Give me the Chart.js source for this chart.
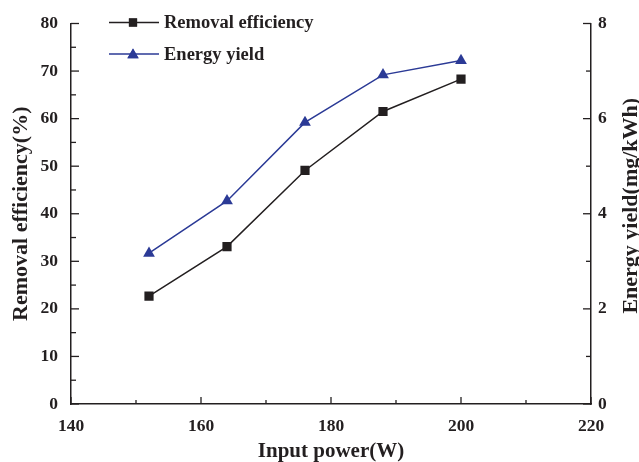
<!DOCTYPE html>
<html>
<head>
<meta charset="utf-8">
<script src="https://cdn.jsdelivr.net/npm/chart.js@4.4.1/dist/chart.umd.min.js"></script>
<style>
html,body{margin:0;padding:0;background:#fff;}
#wrap{width:639px;height:462px;position:relative;}
</style>
</head>
<body>
<div id="wrap"><canvas id="c"></canvas></div>
<script>
const powers = [152, 164, 176, 188, 200];
const removal = [22.7, 33.1, 49.1, 61.5, 68.3];
const energy = [3.17, 4.27, 5.92, 6.92, 7.22];
const xTicks = [140, 160, 180, 200, 220];
const leftTicks = [0, 10, 20, 30, 40, 50, 60, 70, 80];
const rightTicks = [0, 2, 4, 6, 8];
const seriesNames = ['Removal efficiency', 'Energy yield'];

const BLACK = '#231f20';
const BLUE = '#2b3a96';
const FONT = '"Liberation Serif", "Times New Roman", serif';

const inwardTicks = {
  id: 'inwardTicks',
  afterDraw(chart) {
    const ctx = chart.ctx;
    const area = chart.chartArea;
    ctx.save();
    ctx.strokeStyle = BLACK;
    ctx.lineWidth = 1.3;
    const x = chart.scales.x, yl = chart.scales.y, yr = chart.scales.y2;
    for (let v = 140; v <= 220; v += 10) {
      const px = x.getPixelForValue(v);
      const len = (v % 20 === 0) ? 7 : 4;
      ctx.beginPath(); ctx.moveTo(px, area.bottom); ctx.lineTo(px, area.bottom - len); ctx.stroke();
    }
    for (let v = 0; v <= 80; v += 5) {
      const py = yl.getPixelForValue(v);
      const len = (v % 10 === 0) ? 8 : 5;
      ctx.beginPath(); ctx.moveTo(area.left, py); ctx.lineTo(area.left + len, py); ctx.stroke();
    }
    for (let v = 0; v <= 8; v += 1) {
      const py = yr.getPixelForValue(v);
      const len = (v % 2 === 0) ? 8 : 5;
      ctx.beginPath(); ctx.moveTo(area.right, py); ctx.lineTo(area.right - len, py); ctx.stroke();
    }
    // right axis title (reads bottom to top)
    ctx.fillStyle = BLACK;
    ctx.font = 'bold 22px ' + FONT;
    ctx.textAlign = 'center';
    ctx.textBaseline = 'middle';
    ctx.translate(chart.width - 8, (area.top + area.bottom) / 2 - 8);
    ctx.rotate(-Math.PI / 2);
    ctx.fillText('Energy yield(mg/kWh)', 0, 0);
    ctx.restore();

    // legend
    ctx.save();
    const rows = [
      {y: 22.5, color: BLACK, style: 'rect', r: 5.8, name: seriesNames[0]},
      {y: 54, color: BLUE, style: 'triangle', r: 6.5, name: seriesNames[1]}
    ];
    rows.forEach(row => {
      ctx.strokeStyle = row.color;
      ctx.lineWidth = 1.5;
      ctx.beginPath(); ctx.moveTo(109, row.y); ctx.lineTo(159, row.y); ctx.stroke();
      ctx.fillStyle = row.color;
      Chart.helpers.drawPoint(ctx, {pointStyle: row.style, radius: row.r, borderWidth: 0, rotation: 0}, 133, row.y + (row.style === 'triangle' ? 1 : 0));
      ctx.fill();
      ctx.fillStyle = BLACK;
      ctx.font = 'bold 18.5px ' + FONT;
      ctx.textAlign = 'left';
      ctx.textBaseline = 'middle';
      ctx.fillText(row.name, 164, row.y + 1);
    });
    ctx.restore();
  }
};

const chart = new Chart(document.getElementById('c'), {
  type: 'line',
  data: {
    datasets: [
      {
        label: seriesNames[0],
        data: powers.map((p, i) => ({x: p, y: removal[i]})),
        yAxisID: 'y',
        borderColor: BLACK,
        backgroundColor: BLACK,
        borderWidth: 1.5,
        pointStyle: 'rect',
        pointRadius: 6.5,
        pointBorderWidth: 0,
        tension: 0
      },
      {
        label: seriesNames[1],
        data: powers.map((p, i) => ({x: p, y: energy[i]})),
        yAxisID: 'y2',
        borderColor: BLUE,
        backgroundColor: BLUE,
        borderWidth: 1.5,
        pointStyle: 'triangle',
        pointRadius: 6.8,
        pointBorderWidth: 0,
        tension: 0
      }
    ]
  },
  options: {
    responsive: true,
    maintainAspectRatio: false,
    animation: false,
    layout: {padding: {top: 22, left: 0, right: 0, bottom: 0}},
    plugins: {legend: {display: false}, tooltip: {enabled: false}},
    scales: {
      x: {
        type: 'linear',
        min: 140, max: 220,
        afterBuildTicks: s => { s.ticks = xTicks.map(v => ({value: v})); },
        afterFit: s => { s.height = 58; },
        grid: {display: false, drawTicks: false},
        border: {display: true, color: BLACK, width: 1.5},
        ticks: {color: BLACK, padding: 12, font: {family: FONT, size: 17.5, weight: 'bold'}},
        title: {display: true, text: 'Input power(W)', color: BLACK, padding: {top: 0, bottom: -2}, font: {family: FONT, size: 21, weight: 'bold'}}
      },
      y: {
        position: 'left',
        min: 0, max: 80,
        afterBuildTicks: s => { s.ticks = leftTicks.map(v => ({value: v})); },
        afterFit: s => { s.width = 71; },
        grid: {display: false, drawTicks: false},
        border: {display: true, color: BLACK, width: 1.5},
        ticks: {color: BLACK, padding: 13, font: {family: FONT, size: 17.5, weight: 'bold'}},
        title: {display: true, text: 'Removal efficiency(%)', color: BLACK, padding: {top: 8, bottom: 0}, font: {family: FONT, size: 22, weight: 'bold'}}
      },
      y2: {
        position: 'right',
        min: 0, max: 8,
        afterBuildTicks: s => { s.ticks = rightTicks.map(v => ({value: v})); },
        afterFit: s => { s.width = 48; },
        grid: {display: false, drawTicks: false},
        border: {display: true, color: BLACK, width: 1.5},
        ticks: {color: BLACK, padding: 7, font: {family: FONT, size: 17.5, weight: 'bold'}}
      }
    }
  },
  plugins: [inwardTicks]
});
</script>
</body>
</html>
